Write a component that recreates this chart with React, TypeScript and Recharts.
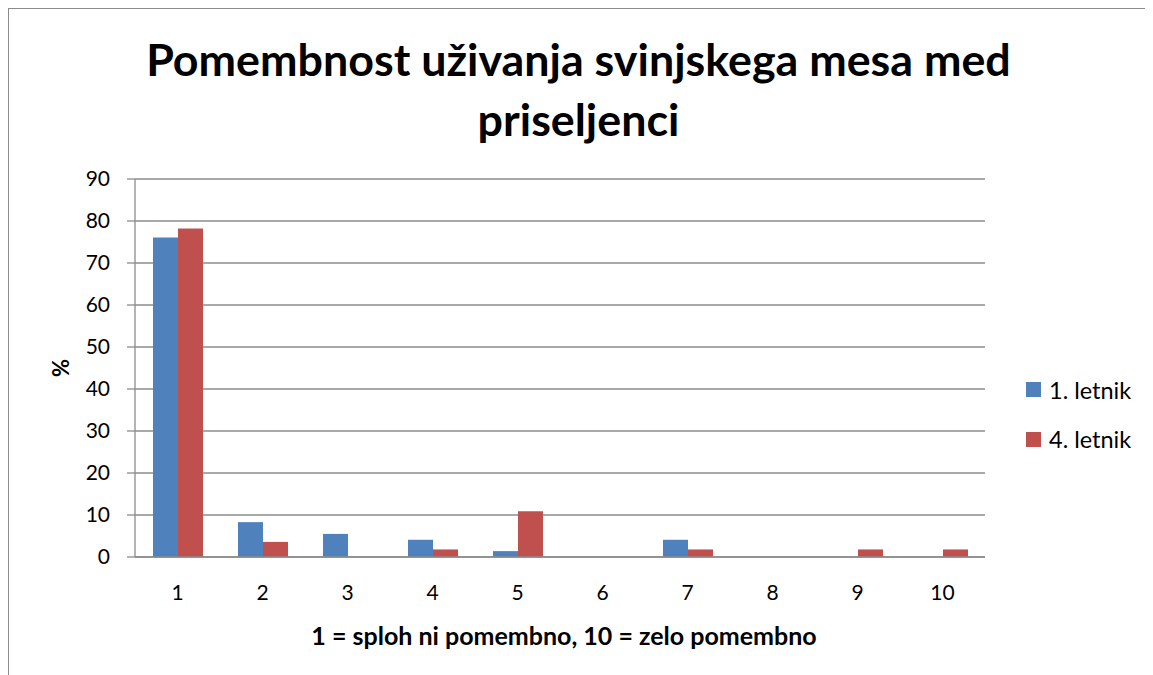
import { Bar, BarChart, CartesianGrid, Legend, XAxis, YAxis } from "recharts";

const categories = ["1", "2", "3", "4", "5", "6", "7", "8", "9", "10"];
const letnik1 = [76.1, 8.3, 5.5, 4.1, 1.4, 0, 4.1, 0, 0, 0];
const letnik4 = [78.2, 3.6, 0, 1.8, 10.9, 0, 1.8, 0, 1.8, 1.8];
const yTicks = [0, 10, 20, 30, 40, 50, 60, 70, 80, 90];

const data = categories.map((c, i) => ({
  name: c,
  l1: letnik1[i],
  l4: letnik4[i],
}));

const FONT = "Lato, 'Open Sans', sans-serif";
const GRID = "#8c8c8c";

const legendItems = [
  { label: "1. letnik", color: "#4F81BD" },
  { label: "4. letnik", color: "#C0504D" },
];

function LegendBox() {
  return (
    <div style={{ fontFamily: FONT, fontSize: 23.5, color: "#000" }}>
      {legendItems.map((it) => (
        <div key={it.label} style={{ display: "flex", alignItems: "center", height: 49.5 }}>
          <span style={{ width: 15, height: 15, background: it.color, marginRight: 8, display: "inline-block" }} />
          <span>{it.label}</span>
        </div>
      ))}
    </div>
  );
}

export default function App() {
  return (
    <div style={{ position: "relative", width: 1145, height: 667, borderLeft: `1px solid ${GRID}`, borderTop: `1px solid ${GRID}`, boxSizing: "border-box", background: "#fff" }}>
      <div
        style={{
          position: "absolute",
          left: 2,
          top: 20,
          width: 1135,
          textAlign: "center",
          fontFamily: FONT,
          fontWeight: 700,
          fontSize: 44.8,
          lineHeight: "60px",
          color: "#000",
        }}
      >
        Pomembnost uživanja svinjskega mesa med
        <br />
        priseljenci
      </div>
      <div style={{ position: "absolute", top: -1, left: -1 }}>
        <BarChart
          width={1145}
          height={667}
          data={data}
          margin={{ top: 171, right: 168, left: 67, bottom: 28 }}
          barCategoryGap={18}
          barGap={0}
        >
          <CartesianGrid horizontal vertical={false} stroke={GRID} strokeWidth={1.3} />
          <XAxis
            dataKey="name"
            height={90}
            axisLine={{ stroke: GRID, strokeWidth: 1.3 }}
            tickLine={false}
            tickMargin={22}
            tick={{ fill: "#000", fontSize: 21, fontFamily: FONT }}
            label={{
              value: "1 = sploh ni pomembno, 10 = zelo pomembno",
              position: "insideBottom",
              offset: 2,
              dx: 4,
              fill: "#000",
              fontSize: 25,
              fontWeight: 700,
              fontFamily: FONT,
            }}
          />
          <YAxis
            width={60}
            domain={[0, 90]}
            ticks={yTicks}
            interval={0}
            axisLine={{ stroke: GRID, strokeWidth: 1.3 }}
            tickLine={{ stroke: GRID, strokeWidth: 1.3 }}
            tickSize={8}
            tickMargin={17}
            tick={{ fill: "#000", fontSize: 21, fontFamily: FONT }}
            label={{
              value: "%",
              angle: -90,
              position: "center",
              dx: -44,
              fill: "#000",
              fontSize: 22,
              fontWeight: 700,
              fontFamily: FONT,
            }}
          />
          <Legend
            layout="vertical"
            align="center"
            verticalAlign="middle"
            content={() => <LegendBox />}
            wrapperStyle={{ left: 1018, top: 357, width: 140 }}
          />
          <Bar dataKey="l1" name="1. letnik" fill="#4F81BD" isAnimationActive={false} />
          <Bar dataKey="l4" name="4. letnik" fill="#C0504D" isAnimationActive={false} />
        </BarChart>
      </div>
    </div>
  );
}
